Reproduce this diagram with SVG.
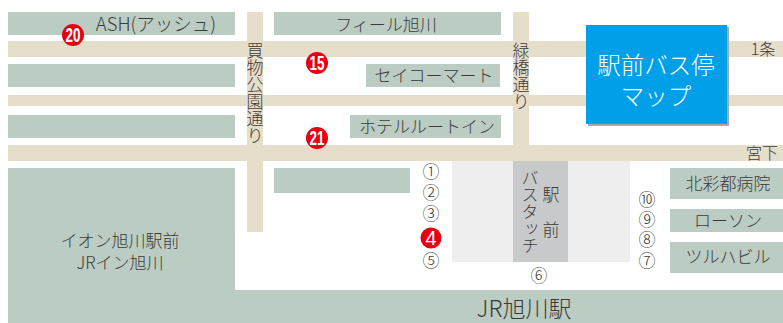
<svg xmlns="http://www.w3.org/2000/svg" width="783" height="323" viewBox="0 0 783 323">
<style>
.b{fill:#bbccc3}.r{fill:#e5decb}
text{font-family:"Noto Sans CJK JP","Liberation Sans",sans-serif;fill:#3e3a39;font-weight:300}
.m{text-anchor:middle}
.t{font-size:17px}
.v{font-size:17px;writing-mode:vertical-rl;text-anchor:start}
.n{font-size:17px;text-anchor:middle;font-weight:300}
.c{fill:#e60012}
.w{fill:#fff;text-anchor:middle;font-family:"Liberation Sans",sans-serif;font-weight:700}
</style>
<rect width="783" height="323" fill="#fff"/>
<g id="roads">
<rect class="r" x="8" y="41" width="775" height="16"/>
<rect class="r" x="8" y="95" width="775" height="11"/>
<rect class="r" x="8" y="145" width="775" height="16"/>
<rect class="r" x="247" y="12" width="16" height="220"/>
<rect class="r" x="513" y="12" width="16" height="149"/>
</g>
<g id="blocks">
<rect class="b" x="8" y="12" width="227" height="23"/>
<rect class="b" x="8" y="64" width="227" height="23"/>
<rect class="b" x="8" y="115" width="227" height="23"/>
<rect class="b" x="274" y="12" width="227" height="23"/>
<rect class="b" x="366" y="64" width="134" height="23"/>
<rect class="b" x="350" y="115" width="151" height="23"/>
<rect class="b" x="274" y="168" width="136" height="25"/>
<rect class="b" x="8" y="168" width="227" height="155"/>
<rect class="b" x="8" y="290" width="775" height="33"/>
<rect class="b" x="670" y="168" width="113" height="31"/>
<rect class="b" x="670" y="209" width="113" height="23"/>
<rect class="b" x="670" y="242" width="113" height="31"/>
</g>
<g id="bus-touch">
<rect x="452" y="161" width="178" height="101" fill="#eeeeee"/>
<rect x="513" y="161" width="55" height="101" fill="#c8c9ca"/>
<text class="v" x="530" y="169" style="font-size:17px">バスタッチ</text>
<text class="v" x="551" y="186" style="font-size:17px">駅</text>
<text class="v" x="551" y="221" style="font-size:17px">前</text>
</g>
<g id="labels">
<text class="t m" x="156" y="31" style="font-size:18.5px">ASH(アッシュ)</text>
<text class="t m" x="386" y="31">フィール旭川</text>
<text class="t m" x="434" y="82">セイコーマート</text>
<text class="t m" x="427" y="133">ホテルルートイン</text>
<text class="m" x="120" y="247" font-size="17">イオン旭川駅前</text>
<text class="m" x="120" y="269" font-size="17">JRイン旭川</text>
<text class="m" x="728" y="190" font-size="17">北彩都病院</text>
<text class="m" x="728" y="227" font-size="17">ローソン</text>
<text class="m" x="728" y="263" font-size="17">ツルハビル</text>
<text class="m" x="524" y="317" font-size="23">JR旭川駅</text>
<text class="m" x="763" y="55" font-size="16">1条</text>
<text class="m" x="762" y="159" font-size="16">宮下</text>
<text class="v" x="255" y="42">買物公園通り</text>
<text class="v" x="521" y="42">緑橋通り</text>
</g>
<g id="map-title">
<rect x="588" y="27" width="141" height="99" fill="#a9a9a9"/>
<rect x="586" y="25" width="141" height="99" fill="#00a0e9"/>
<text class="m" x="656" y="74" font-size="23.5" style="fill:#fff">駅前バス停</text>
<text class="m" x="656" y="105" font-size="23.5" style="fill:#fff">マップ</text>
</g>
<g id="stops">
<text class="n" x="431" y="178">①</text>
<text class="n" x="431" y="199">②</text>
<text class="n" x="431" y="220">③</text>
<text class="n" x="431" y="267">⑤</text>
<text class="n" x="539" y="282">⑥</text>
<text class="n" x="647" y="267">⑦</text>
<text class="n" x="647" y="246">⑧</text>
<text class="n" x="647" y="226">⑨</text>
<text class="n" x="647" y="206">⑩</text>
</g>
<g id="marker-4"><circle class="c" cx="431" cy="238" r="10.5"/><text class="w" x="431" y="245" font-size="20" style="font-weight:400">4</text></g>
<g id="marker-20"><circle class="c" cx="73" cy="35" r="11"/><text class="w" x="73" y="42" font-size="20" textLength="15" lengthAdjust="spacingAndGlyphs">20</text></g>
<g id="marker-15"><circle class="c" cx="317" cy="63" r="11"/><text class="w" x="317" y="70" font-size="20" textLength="15" lengthAdjust="spacingAndGlyphs">15</text></g>
<g id="marker-21"><circle class="c" cx="317" cy="138" r="11"/><text class="w" x="317" y="145" font-size="20" textLength="15" lengthAdjust="spacingAndGlyphs">21</text></g>
</svg>
